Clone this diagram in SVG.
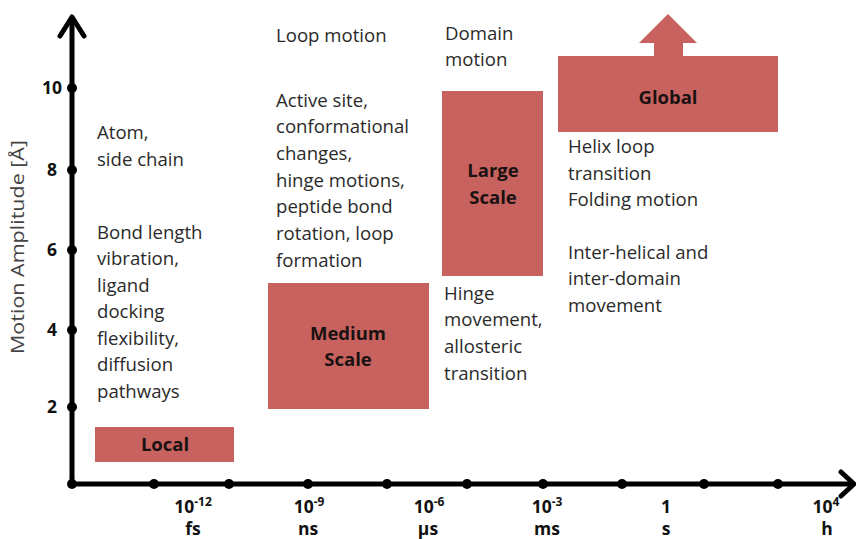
<svg xmlns="http://www.w3.org/2000/svg" width="856" height="539" viewBox="0 0 856 539">
<style>
.t{font-family:"Open Sans","Noto Sans",sans-serif;font-size:18.6px;fill:#2a2a2a}
.b{font-family:"Open Sans","Noto Sans",sans-serif;font-size:18.5px;font-weight:bold;fill:#1a1212;text-anchor:middle}
.ax{font-family:"Open Sans","Noto Sans",sans-serif;font-size:17.5px;font-weight:bold;fill:#111}
.xl{text-anchor:middle}
.sup{font-size:12px}
.box{fill:#C8625F}
.axis{stroke:#000;stroke-width:5;fill:none;stroke-linecap:round;stroke-linejoin:round}
.dot{fill:#000}
</style>
<rect width="856" height="539" fill="#fff"/>
<g id="connectors">
<path class="axis" d="M72,18 V484 H852"/>
<path class="axis" d="M60,36 L72,17 L84,36"/>
<path class="axis" d="M841,472 L854,484 L841,496"/>
<g class="dot">
<circle cx="72" cy="88" r="5"/><circle cx="72" cy="170" r="5"/><circle cx="72" cy="250" r="5"/><circle cx="72" cy="330" r="5"/><circle cx="72" cy="407" r="5"/><circle cx="72" cy="484" r="5"/>
<circle cx="154" cy="484" r="5"/><circle cx="229" cy="484" r="5"/><circle cx="308" cy="484" r="5"/><circle cx="387" cy="484" r="5"/><circle cx="467" cy="484" r="5"/><circle cx="543" cy="484" r="5"/><circle cx="622" cy="484" r="5"/><circle cx="704" cy="484" r="5"/><circle cx="778" cy="484" r="5"/>
</g>
</g>
<g id="y-labels" class="ax" text-anchor="end">
<text x="62" y="94">10</text><text x="57" y="176">8</text><text x="57" y="256">6</text><text x="57" y="336">4</text><text x="57" y="413">2</text>
</g>
<text transform="translate(24,247) rotate(-90)" text-anchor="middle" font-family="'Open Sans','Noto Sans',sans-serif" font-size="17.5" fill="#444" textLength="214" lengthAdjust="spacingAndGlyphs">Motion Amplitude [Å]</text>
<g id="x-labels" class="ax">
<text class="xl" x="193" y="513">10<tspan class="sup" dy="-7">-12</tspan></text>
<text class="xl" x="193" y="535">fs</text>
<text class="xl" x="309" y="513">10<tspan class="sup" dy="-7">-9</tspan></text>
<text class="xl" x="308" y="535">ns</text>
<text class="xl" x="429" y="513">10<tspan class="sup" dy="-7">-6</tspan></text>
<text class="xl" x="428" y="535">µs</text>
<text class="xl" x="547" y="513">10<tspan class="sup" dy="-7">-3</tspan></text>
<text class="xl" x="547" y="535">ms</text>
<text class="xl" x="666" y="513">1</text>
<text class="xl" x="666" y="535">s</text>
<text class="xl" x="826" y="513">10<tspan class="sup" dy="-7">4</tspan></text>
<text class="xl" x="827" y="535">h</text>
</g>
<g id="local">
<rect class="box" x="95" y="427" width="139" height="35"/>
<text class="b" x="165" y="451">Local</text>
</g>
<g id="medium">
<rect class="box" x="268" y="283" width="161" height="126"/>
<text class="b" x="348" y="340">Medium</text>
<text class="b" x="348" y="366">Scale</text>
</g>
<g id="large">
<rect class="box" x="442" y="91" width="101" height="185"/>
<text class="b" x="493" y="177">Large</text>
<text class="b" x="493" y="204">Scale</text>
</g>
<g id="global">
<rect class="box" x="558" y="56" width="220" height="76"/>
<polygon class="box" points="654,57 654,43 639,43 668,14 697,43 683,43 683,57"/>
<text class="b" x="668" y="104">Global</text>
</g>
<g id="atom-text" class="t">
<text x="97" y="139">Atom,</text>
<text x="97" y="166">side chain</text>
</g>
<g id="bond-text" class="t">
<text x="97" y="239">Bond length</text>
<text x="97" y="265">vibration,</text>
<text x="97" y="292">ligand</text>
<text x="97" y="318">docking</text>
<text x="97" y="345">flexibility,</text>
<text x="97" y="371">diffusion</text>
<text x="97" y="398">pathways</text>
</g>
<g id="loop-text" class="t">
<text x="276" y="42">Loop motion</text>
</g>
<g id="active-text" class="t">
<text x="276" y="107">Active site,</text>
<text x="276" y="133">conformational</text>
<text x="276" y="160">changes,</text>
<text x="276" y="187">hinge motions,</text>
<text x="276" y="213">peptide bond</text>
<text x="276" y="240">rotation, loop</text>
<text x="276" y="267">formation</text>
</g>
<g id="domain-text" class="t">
<text x="445" y="40">Domain</text>
<text x="445" y="66">motion</text>
</g>
<g id="hinge-text" class="t">
<text x="444" y="300">Hinge</text>
<text x="444" y="326">movement,</text>
<text x="444" y="353">allosteric</text>
<text x="444" y="380">transition</text>
</g>
<g id="helix-text" class="t">
<text x="568" y="153">Helix loop</text>
<text x="568" y="180">transition</text>
<text x="568" y="206">Folding motion</text>
<text x="568" y="259">Inter-helical and</text>
<text x="568" y="285">inter-domain</text>
<text x="568" y="312">movement</text>
</g>
</svg>
